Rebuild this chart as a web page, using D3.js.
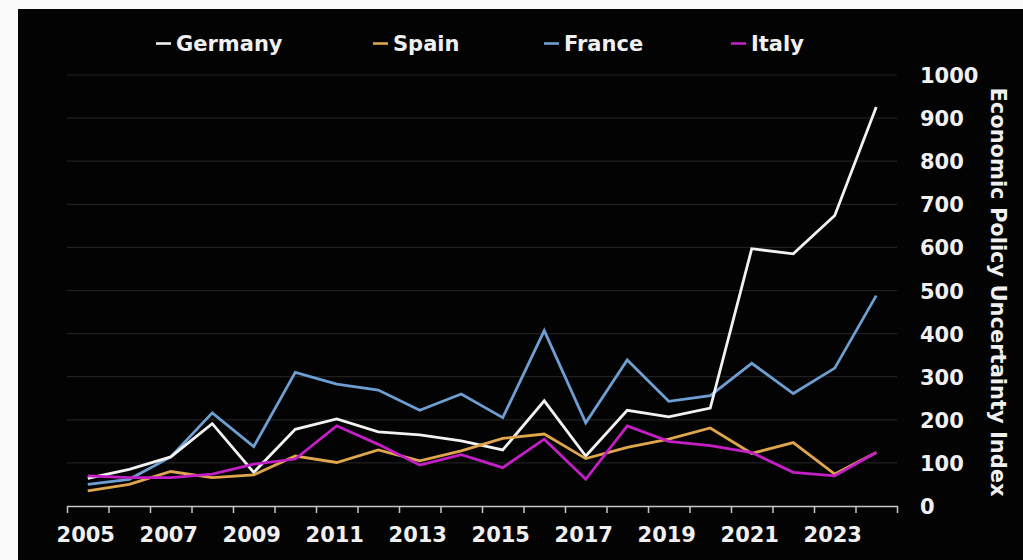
<!DOCTYPE html>
<html>
<head>
<meta charset="utf-8">
<script src="https://cdn.jsdelivr.net/npm/d3@7"></script>
<style>
  html, body { margin: 0; padding: 0; background: #fafafa; }
  svg { display: block; }
</style>
</head>
<body>
<svg id="svg" width="1023" height="560"></svg>
<script>
// data
const years = [2005, 2006, 2007, 2008, 2009, 2010, 2011, 2012, 2013, 2014,
               2015, 2016, 2017, 2018, 2019, 2020, 2021, 2022, 2023, 2024];
const germany = [64, 85, 114, 191, 78, 178, 202, 172, 165, 151,
                 130, 244, 116, 222, 207, 227, 597, 585, 674, 926];
const spain = [35, 50, 80, 66, 72, 116, 101, 130, 105, 128,
               157, 167, 110, 136, 155, 181, 122, 147, 74, 124];
const france = [50, 62, 114, 216, 138, 310, 283, 269, 222, 260,
                205, 407, 193, 339, 243, 256, 331, 261, 320, 488];
const italy = [70, 66, 66, 74, 97, 109, 186, 143, 95, 119,
               89, 155, 62, 186, 150, 140, 124, 78, 70, 124];
const yTicks = [0, 100, 200, 300, 400, 500, 600, 700, 800, 900, 1000];
const xLabels = [2005, 2007, 2009, 2011, 2013, 2015, 2017, 2019, 2021, 2023];

const series = [
  {name: "Germany", values: germany, color: "#f2f2f2", lx: 156},
  {name: "Spain",   values: spain,   color: "#dfa64e", lx: 373},
  {name: "France",  values: france,  color: "#6e9fd2", lx: 544},
  {name: "Italy",   values: italy,   color: "#c41fc6", lx: 731}
];
// drawing order (magenta on top)
const drawOrder = ["France", "Germany", "Spain", "Italy"];

const svg = d3.select("#svg");
const font = "'DejaVu Sans', Verdana, sans-serif";

// black panel
svg.append("rect")
   .attr("x", 18).attr("y", 9)
   .attr("width", 1005).attr("height", 551)
   .attr("fill", "#030303");

const x = d3.scaleLinear().domain([2004.5, 2024.5]).range([67, 897]);
const y = d3.scaleLinear().domain([0, 1000]).range([506, 75]);

// gridlines
svg.append("g")
   .selectAll("line")
   .data(yTicks.filter(d => d > 0))
   .join("line")
   .attr("x1", 67).attr("x2", 897)
   .attr("y1", d => y(d)).attr("y2", d => y(d))
   .attr("stroke", "#202020")
   .attr("stroke-width", 1.2);

// x axis (ticks on year boundaries)
const xAxis = d3.axisBottom(x)
  .tickValues(d3.range(2004.5, 2025, 1))
  .tickFormat("")
  .tickSize(7)
  .tickSizeOuter(0);
const gx = svg.append("g")
   .attr("transform", "translate(0,506)")
   .call(xAxis);
gx.select(".domain").attr("stroke", "#c8c8c8").attr("stroke-width", 1.5);
gx.selectAll(".tick line").attr("stroke", "#c8c8c8").attr("stroke-width", 1.5);

svg.append("g")
   .selectAll("text")
   .data(xLabels)
   .join("text")
   .attr("x", d => x(d) - 2)
   .attr("y", 542)
   .attr("text-anchor", "middle")
   .attr("fill", "#f0f0f0")
   .style("font-family", font)
   .style("font-weight", "bold")
   .style("font-size", "21px")
   .text(d => d);

// y axis on the right
const yAxis = d3.axisRight(y)
  .tickValues(yTicks)
  .tickFormat(d3.format("d"))
  .tickSize(0)
  .tickPadding(0);
const gy = svg.append("g")
   .attr("transform", "translate(920,0)")
   .call(yAxis);
gy.select(".domain").remove();
gy.selectAll(".tick text")
  .attr("fill", "#f0f0f0")
  .attr("dy", "0.36em")
  .style("font-family", font)
  .style("font-weight", "bold")
  .style("font-size", "21px");

svg.append("text")
   .attr("transform", "translate(991,292) rotate(90)")
   .attr("text-anchor", "middle")
   .attr("fill", "#f0f0f0")
   .style("font-family", font)
   .style("font-weight", "bold")
   .style("font-size", "21px")
   .text("Economic Policy Uncertainty Index");

// lines
const line = d3.line()
  .x((d, i) => x(years[i]))
  .y(d => y(d));

svg.append("g")
   .selectAll("path")
   .data(drawOrder.map(n => series.find(s => s.name === n)))
   .join("path")
   .attr("d", d => line(d.values))
   .attr("fill", "none")
   .attr("stroke", d => d.color)
   .attr("stroke-width", 2.8)
   .attr("stroke-linejoin", "miter");

// legend
const lg = svg.append("g")
   .selectAll("g")
   .data(series)
   .join("g")
   .attr("transform", d => "translate(" + d.lx + ",0)");
lg.append("line")
  .attr("x1", 0).attr("x2", 15)
  .attr("y1", 43.5).attr("y2", 43.5)
  .attr("stroke", d => d.color)
  .attr("stroke-width", 2.6);
lg.append("text")
  .attr("x", 20)
  .attr("y", 51)
  .attr("fill", "#f0f0f0")
  .style("font-family", font)
  .style("font-weight", "bold")
  .style("font-size", "21px")
  .text(d => d.name);
</script>
</body>
</html>
